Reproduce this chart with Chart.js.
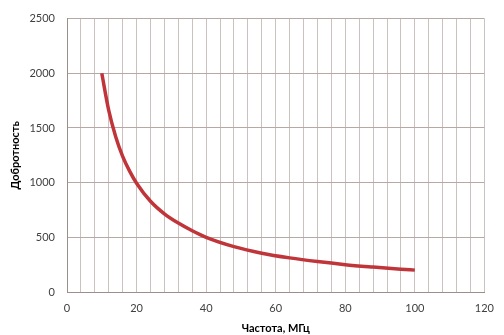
<!DOCTYPE html>
<html>
<head>
<meta charset="utf-8">
<script src="https://cdn.jsdelivr.net/npm/chart.js@4"></script>
<style>
  html, body { margin: 0; padding: 0; background: #fff; }
  #wrap { width: 504px; height: 335px; }
</style>
</head>
<body>
<div id="wrap"><canvas id="qChart" width="504" height="335"></canvas></div>
<script>
// Q factor vs frequency
const freqMHz = [10, 12, 14, 16, 18, 20, 24, 28, 32, 36, 40, 48, 56, 64, 72, 80, 88, 96, 100];
const quality = [2000, 1660, 1420, 1240, 1105, 995, 830, 715, 630, 560, 500, 415, 355, 312, 278, 250, 228, 208, 200];
const xTickLabels = [0, 20, 40, 60, 80, 100, 120];
const yTickLabels = [0, 500, 1000, 1500, 2000, 2500];

const points = freqMHz.map((f, i) => ({ x: f, y: quality[i] }));
const tickFont = { family: 'Lato, "Open Sans", sans-serif', size: 11 };
const titleFont = { family: 'Lato, "Open Sans", sans-serif', size: 11, weight: 'bold' };

const ctx = document.getElementById('qChart').getContext('2d');

new Chart(ctx, {
  type: 'line',
  data: {
    datasets: [
      {
        label: 'Добротность',
        data: points,
        borderColor: '#c0353a',
        borderWidth: 3.5,
        pointRadius: 0,
        fill: false,
        cubicInterpolationMode: 'monotone',
      },
    ],
  },
  options: {
    responsive: false,
    animation: false,
    layout: { padding: { left: 0, right: 0, top: 16, bottom: 0 } },
    plugins: {
      legend: { display: false },
      tooltip: { enabled: false },
    },
    scales: {
      x: {
        type: 'linear',
        min: 0,
        max: 120,
        ticks: {
          stepSize: 4,
          maxTicksLimit: 100,
          autoSkip: false,
          maxRotation: 0,
          padding: 10,
          color: '#404040',
          font: tickFont,
          // empty label keeps the minor grid line
          callback: (v) => (xTickLabels.includes(v) ? String(v) : ''),
        },
        grid: { color: '#cbc2bf', lineWidth: 1, drawTicks: false },
        border: { color: '#9c8f8b' },
        title: {
          display: true,
          text: 'Частота, МГц',
          color: '#000',
          padding: { top: 2, bottom: 0 },
          font: titleFont,
        },
        afterFit: (axis) => { axis.height = 43; },
      },
      y: {
        min: 0,
        max: 2500,
        afterBuildTicks: (axis) => { axis.ticks = yTickLabels.map((v) => ({ value: v })); },
        ticks: {
          padding: 12,
          color: '#404040',
          font: tickFont,
          callback: (v) => String(v),
        },
        grid: { color: '#b8a8a4', lineWidth: 1, drawTicks: false },
        border: { color: '#9c8f8b' },
        title: {
          display: true,
          text: 'Добротность',
          color: '#000',
          padding: { top: 9, bottom: 4 },
          font: titleFont,
        },
        afterFit: (axis) => { axis.width = 67; },
      },
    },
  },
});
</script>
</body>
</html>
